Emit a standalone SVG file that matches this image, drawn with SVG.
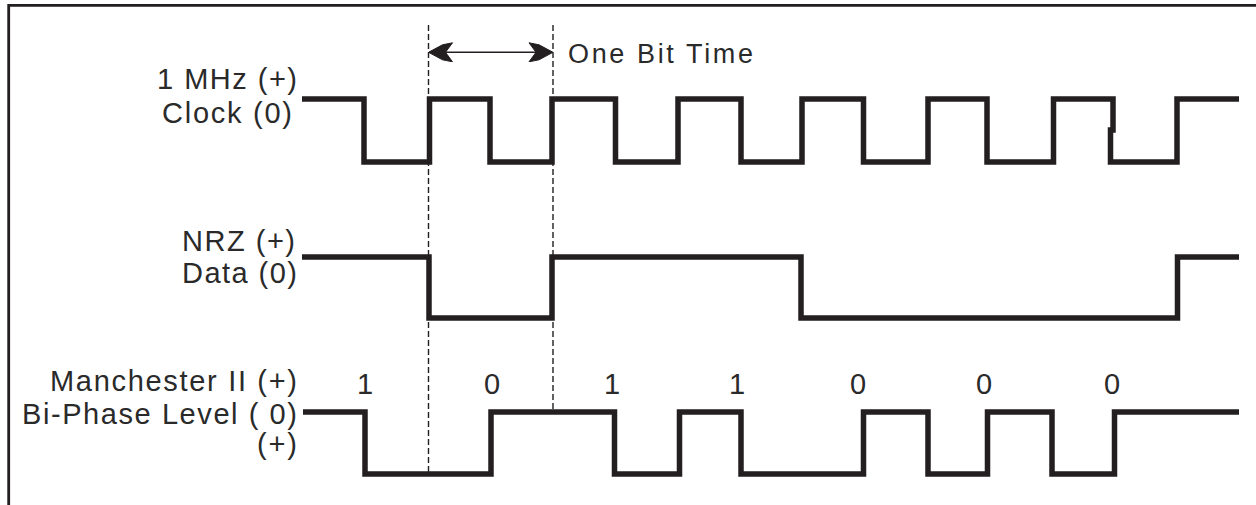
<svg xmlns="http://www.w3.org/2000/svg" width="1256" height="505" viewBox="0 0 1256 505">
  <defs>
    <style>
      .wave { fill: none; stroke: #231f20; stroke-width: 5.5; stroke-linejoin: miter; }
      .border { fill: none; stroke: #231f20; stroke-width: 2.8; }
      .dash { fill: none; stroke: #231f20; stroke-width: 1.4; stroke-dasharray: 6 3; }
      .dim { fill: none; stroke: #231f20; stroke-width: 1.5; }
      .lbl { font-family: "Liberation Sans", Arial, sans-serif; font-size: 29px; fill: #2a2a2a; }
      .bit { font-family: "Liberation Sans", Arial, sans-serif; font-size: 29px; fill: #2a2a2a; text-anchor: middle; }
    </style>
    <marker id="ah" viewBox="0 0 26 20" refX="25" refY="10" markerWidth="26" markerHeight="20" markerUnits="userSpaceOnUse" orient="auto-start-reverse">
      <path d="M26,10 L12,2.5 L2,0.5 L9,10 L2,19.5 L12,17.5 Z" fill="#231f20" stroke="#231f20" stroke-width="1" stroke-linejoin="round"/>
    </marker>
  </defs>
  <rect width="1256" height="505" fill="#ffffff"/>

  <g id="frame">
    <path class="border" d="M8.7,505 V5.3 H1256"/>
  </g>

  <g id="clock">
    <text class="lbl" x="157" y="89" textLength="140" lengthAdjust="spacing">1 MHz (+)</text>
    <text class="lbl" x="162" y="123" textLength="130" lengthAdjust="spacing">Clock (0)</text>
    <path class="wave" d="M302,99 H364 V162 H429.5 V99 H490 V162 H552 V99 H615.5 V162 H678 V99 H741 V162 H802 V99 H863.5 V162 H928 V99 H987 V162 H1053.5 V99 H1113 V130 H1110.5 V162 H1177 V99 H1239"/>
  </g>

  <g id="nrz">
    <text class="lbl" x="182" y="251" textLength="113" lengthAdjust="spacing">NRZ (+)</text>
    <text class="lbl" x="182" y="283" textLength="115" lengthAdjust="spacing">Data (0)</text>
    <path class="wave" d="M302,257 H429 V318 H552 V257 H801 V318 H1177.5 V257 H1239"/>
  </g>

  <g id="manchester">
    <text class="lbl" x="50" y="391" textLength="247" lengthAdjust="spacing">Manchester II (+)</text>
    <text class="lbl" x="22" y="424" textLength="275" lengthAdjust="spacing">Bi-Phase Level ( 0)</text>
    <text class="lbl" x="257" y="454" textLength="40" lengthAdjust="spacing">(+)</text>
    <path class="wave" d="M303,412 H365 V474 H491 V412 H614.5 V474 H679.5 V412 H741 V474 H863.5 V412 H928 V474 H987.5 V412 H1052 V474 H1114.5 V412 H1239"/>
  </g>

  <g id="bits">
    <text class="bit" x="365" y="394">1</text>
    <text class="bit" x="492" y="394">0</text>
    <text class="bit" x="612" y="394">1</text>
    <text class="bit" x="737" y="394">1</text>
    <text class="bit" x="858" y="394">0</text>
    <text class="bit" x="984" y="394">0</text>
    <text class="bit" x="1112" y="394">0</text>
  </g>

  <g id="bit-time">
    <text class="lbl" x="568" y="63" textLength="185" lengthAdjust="spacing" style="font-size:27px">One Bit Time</text>
  </g>

  <g id="connectors">
    <line class="dash" x1="428.5" y1="25" x2="428.5" y2="474"/>
    <line class="dash" x1="553" y1="25" x2="553" y2="412"/>
    <line class="dim" x1="429.5" y1="52.3" x2="552" y2="52.3" marker-start="url(#ah)" marker-end="url(#ah)"/>
  </g>
</svg>
